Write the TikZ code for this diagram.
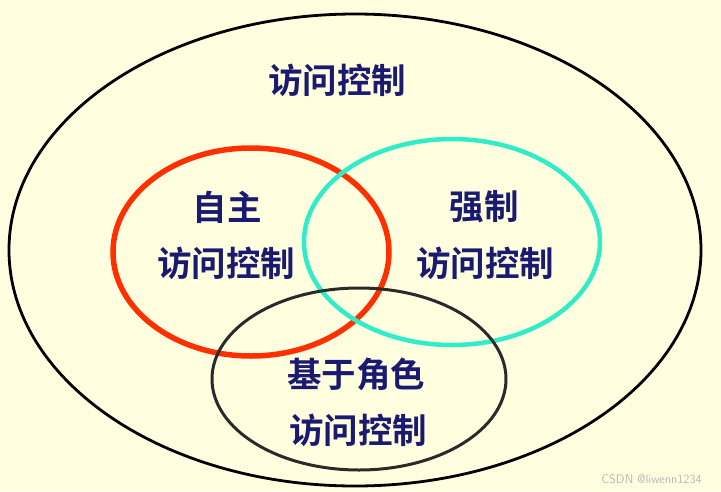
\documentclass[tikz,border=0pt]{standalone}
\usepackage{fontspec}
\newfontfamily\cjk{Noto Sans CJK SC Bold}
\definecolor{bg}{HTML}{FFFFE0}
\definecolor{txt}{HTML}{1A1A70}
\definecolor{redc}{HTML}{FF3000}
\definecolor{cyanc}{HTML}{30ECC8}
\definecolor{darkc}{HTML}{2A2A2A}
\definecolor{wm}{HTML}{B8B8B8}
\begin{document}
\begin{tikzpicture}[x=1pt,y=-1pt,
  lbl/.style={font=\cjk\fontsize{34.5}{40}\selectfont, text=txt, inner sep=0pt}]
\fill[bg] (0,0) rectangle (721,491);
\useasboundingbox (0,0) rectangle (721,491);
\draw[black, line width=2.8pt] (355,250) ellipse [x radius=346, y radius=236];
\draw[redc, line width=5.5pt] (251,252) ellipse [x radius=138, y radius=104];
\draw[cyanc, line width=4.5pt] (452,242) ellipse [x radius=148, y radius=103];
\draw[darkc, line width=3pt] (359,379) ellipse [x radius=147, y radius=91];
\node[lbl] (all) at (337,80) {访问控制};
\node[lbl] (dac1) at (227,207) {自主};
\node[lbl] (dac2) at (226,263) {访问控制};
\node[lbl] (mac1) at (484,207) {强制};
\node[lbl] (mac2) at (485,263) {访问控制};
\node[lbl] (rbac1) at (356,374) {基于角色};
\node[lbl] (rbac2) at (358,430) {访问控制};
\node[font=\fontsize{12.5}{14}\selectfont\sffamily, text=wm, inner sep=0pt, anchor=east] (wmk) at (702,479) {CSDN @liwenn1234};
\end{tikzpicture}
\end{document}
